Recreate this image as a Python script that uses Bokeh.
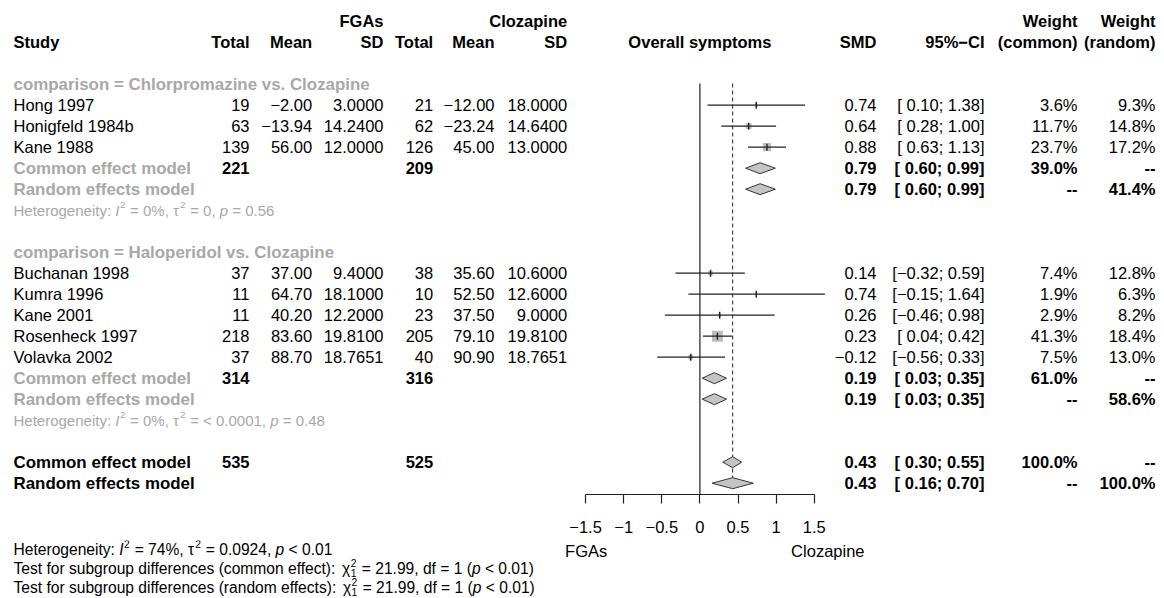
import math
from bokeh.plotting import figure
from bokeh.models import Range1d, LinearAxis, FixedTicker
from bokeh.layouts import column
from bokeh.core.properties import value
from bokeh.embed import file_html
from bokeh.resources import INLINE

# ------------------------------------------------------------------ data
group_labels = ["comparison = Chlorpromazine vs. Clozapine",
                "comparison = Haloperidol vs. Clozapine"]
studies = ["Hong 1997", "Honigfeld 1984b", "Kane 1988",
           "Buchanan 1998", "Kumra 1996", "Kane 2001", "Rosenheck 1997", "Volavka 2002"]
study_group = [0, 0, 0, 1, 1, 1, 1, 1]
fga_total = [19, 63, 139, 37, 11, 11, 218, 37]
fga_mean = [-2.00, -13.94, 56.00, 37.00, 64.70, 40.20, 83.60, 88.70]
fga_sd = [3.0, 14.24, 12.0, 9.4, 18.1, 12.2, 19.81, 18.7651]
clz_total = [21, 62, 126, 38, 10, 23, 205, 40]
clz_mean = [-12.00, -23.24, 45.00, 35.60, 52.50, 37.50, 79.10, 90.90]
clz_sd = [18.0, 14.64, 13.0, 10.6, 12.6, 9.0, 19.81, 18.7651]
smd = [0.74, 0.64, 0.88, 0.14, 0.74, 0.26, 0.23, -0.12]
ci_low = [0.10, 0.28, 0.63, -0.32, -0.15, -0.46, 0.04, -0.56]
ci_high = [1.38, 1.00, 1.13, 0.59, 1.64, 0.98, 0.42, 0.33]
w_common = [3.6, 11.7, 23.7, 7.4, 1.9, 2.9, 41.3, 7.5]
w_random = [9.3, 14.8, 17.2, 12.8, 6.3, 8.2, 18.4, 13.0]

sub_fga_total = [221, 314]
sub_clz_total = [209, 316]
sub_common_est = [0.79, 0.19]
sub_common_low = [0.60, 0.03]
sub_common_high = [0.99, 0.35]
sub_random_est = [0.79, 0.19]
sub_random_low = [0.60, 0.03]
sub_random_high = [0.99, 0.35]
sub_w_common = [39.0, 61.0]
sub_w_random = [41.4, 58.6]
sub_het_i2 = ["0%", "0%"]
sub_het_tau2 = ["0", "< 0.0001"]
sub_het_p = ["= 0.56", "= 0.48"]

overall_fga_total = 535
overall_clz_total = 525
overall_common = [0.43, 0.30, 0.55]
overall_random = [0.43, 0.16, 0.70]
overall_w = 100.0
overall_het = ["74%", "0.0924", "< 0.01"]
subgroup_test_chi2 = 21.99
subgroup_test_df = 1
subgroup_test_p = "< 0.01"

axis_ticks = [-1.5, -1, -0.5, 0, 0.5, 1, 1.5]
axis_tick_labels = ["\u22121.5", "\u22121", "\u22120.5", "0", "0.5", "1", "1.5"]
label_left = "FGAs"
label_right = "Clozapine"
ref_value = 0

# ------------------------------------------------------------------ layout helpers
W_PX, H_PX = 1164, 598
ZERO_PX, UNIT_PX = 699.4, 76.2
TOP_H, FRAME_H = 540, 494
FS, FS_LAB, FS_HET, FS_BOT = 16.5, 16.9, 15, 15.6
FONT = value("Liberation Sans")
GREY = "#a8a8a8"
NB = "\u00a0"


def X(px):
    return (px - ZERO_PX) / UNIT_PX


def ypx(k):
    return 41.7 + 21 * k


def fmt(v, d):
    return f"{v:.{d}f}".replace("-", "\u2212")


def fmt_ci(lo, hi):
    a = (" " if lo >= 0 else "\u2212") + f"{abs(lo):.2f}"
    b = fmt(hi, 2)
    return f"[{a}; {b}]"


def txt(fig, px, ys, texts, align="left", bold=False, italic=False, color="black", size=FS):
    style = "bold" if bold else ("italic" if italic else "normal")
    fig.text(x=[X(px)] * len(ys), y=ys, text=texts, text_align=align,
             text_baseline="middle", text_font=FONT, text_font_size=f"{size}px",
             text_font_style=style, text_color=color)


AW = {' ': 278, '(': 333, ')': 333, ',': 278, '.': 278, ':': 278, '%': 889, '=': 584,
      '<': 584, '-': 333, '\u03c7': 520, '\u03c4': 430, 'H': 722, 'I': 278, 'T': 611,
      'a': 556, 'b': 556, 'c': 500, 'd': 556, 'e': 556, 'f': 278, 'g': 556, 'h': 556,
      'i': 222, 'k': 500, 'l': 222, 'm': 833, 'n': 556, 'o': 556, 'p': 556, 'r': 333,
      's': 500, 't': 278, 'u': 556, 'v': 500, 'y': 500}


def tw(s, size):
    return sum(AW.get(c, 556) for c in s) * size / 1000.0


def rich(fig, x0, y, segs, size, color):
    x = x0
    ss = size * 0.66
    for s, kind in segs:
        shown = s.replace(" ", NB)
        if kind in ("n", "i"):
            txt(fig, x, [y], [shown], italic=(kind == "i"), color=color, size=size)
            x += tw(s, size)
        elif kind == "sup":
            txt(fig, x + 0.5, [y - size * 0.36], [shown], color=color, size=ss)
            x += tw(s, ss) + 1
        else:  # stacked super/sub
            a, b = s.split("|")
            txt(fig, x + 0.5, [y - size * 0.36], [a], color=color, size=ss)
            txt(fig, x + 0.5, [y + size * 0.27], [b], color=color, size=ss)
            x += max(tw(a, ss), tw(b, ss)) + 1.5


def het_segs(i2, tau2, p):
    p_op, p_val = p.split(" ", 1)
    return [("Heterogeneity: ", "n"), ("I", "i"), ("2", "sup"), (f" = {i2}, ", "n"),
            ("\u03c4", "n"), ("2", "sup"), (f" = {tau2}, ", "n"), ("p", "i"),
            (f" {p_op} {p_val}", "n")]


# column anchors (px)
C_STUDY, C_N1, C_M1, C_S1, C_N2, C_M2, C_S2 = 13, 249, 311.7, 383, 432.7, 494, 566.7
C_SMD, C_CI, C_WC, C_WR = 876, 984, 1077, 1155

# ------------------------------------------------------------------ rows
rows_glabel, rows_study, rows_common, rows_random, rows_het = [], [], [], [], []
r = 2
for g in range(len(group_labels)):
    rows_glabel.append(r); r += 1
    for i in range(len(studies)):
        if study_group[i] == g:
            rows_study.append(r); r += 1
    rows_common.append(r); r += 1
    rows_random.append(r); r += 1
    rows_het.append(r); r += 2
row_oc, row_or = r, r + 1

y_study = [ypx(k) for k in rows_study]

# ------------------------------------------------------------------ top figure
p = figure(width=W_PX, height=TOP_H, output_backend="svg", toolbar_location=None,
           x_range=Range1d(X(0), X(W_PX)), y_range=Range1d(FRAME_H, 0),
           x_axis_type=None, y_axis_type=None,
           min_border_left=0, min_border_right=0, min_border_top=0,
           min_border_bottom=TOP_H - FRAME_H)
p.outline_line_color = None
p.background_fill_color = "white"
p.border_fill_color = "white"

# headers
txt(p, C_S1, [ypx(-1)], ["FGAs"], align="right", bold=True)
txt(p, C_S2, [ypx(-1)], ["Clozapine"], align="right", bold=True)
txt(p, C_WC, [ypx(-1)], ["Weight"], align="right", bold=True)
txt(p, C_WR, [ypx(-1)], ["Weight"], align="right", bold=True)
h = ypx(0)
txt(p, C_STUDY, [h], ["Study"], bold=True)
for px, t in [(C_N1, "Total"), (C_M1, "Mean"), (C_S1, "SD"), (C_N2, "Total"),
              (C_M2, "Mean"), (C_S2, "SD"), (C_SMD, "SMD"), (C_CI, "95%\u2212CI"),
              (C_WC, "(common)"), (C_WR, "(random)")]:
    txt(p, px, [h], [t], align="right", bold=True)
txt(p, ZERO_PX, [h], ["Overall symptoms"], align="center", bold=True)

# group labels
txt(p, C_STUDY, [ypx(k) for k in rows_glabel], group_labels, bold=True, color=GREY, size=FS_LAB)

# study rows
txt(p, C_STUDY, y_study, studies)
txt(p, C_N1, y_study, [str(v) for v in fga_total], align="right")
txt(p, C_M1, y_study, [fmt(v, 2) for v in fga_mean], align="right")
txt(p, C_S1, y_study, [fmt(v, 4) for v in fga_sd], align="right")
txt(p, C_N2, y_study, [str(v) for v in clz_total], align="right")
txt(p, C_M2, y_study, [fmt(v, 2) for v in clz_mean], align="right")
txt(p, C_S2, y_study, [fmt(v, 4) for v in clz_sd], align="right")
txt(p, C_SMD, y_study, [fmt(v, 2) for v in smd], align="right")
txt(p, C_CI, y_study, [fmt_ci(a, b) for a, b in zip(ci_low, ci_high)], align="right")
txt(p, C_WC, y_study, [fmt(v, 1) + "%" for v in w_common], align="right")
txt(p, C_WR, y_study, [fmt(v, 1) + "%" for v in w_random], align="right")

# subgroup summaries
y_c = [ypx(k) for k in rows_common]
y_r = [ypx(k) for k in rows_random]
txt(p, C_STUDY, y_c, ["Common effect model"] * 2, bold=True, color=GREY, size=FS_LAB)
txt(p, C_STUDY, y_r, ["Random effects model"] * 2, bold=True, color=GREY, size=FS_LAB)
txt(p, C_N1, y_c, [str(v) for v in sub_fga_total], align="right", bold=True)
txt(p, C_N2, y_c, [str(v) for v in sub_clz_total], align="right", bold=True)
txt(p, C_SMD, y_c, [fmt(v, 2) for v in sub_common_est], align="right", bold=True)
txt(p, C_CI, y_c, [fmt_ci(a, b) for a, b in zip(sub_common_low, sub_common_high)], align="right", bold=True)
txt(p, C_WC, y_c, [fmt(v, 1) + "%" for v in sub_w_common], align="right", bold=True)
txt(p, C_WR, y_c, ["--"] * 2, align="right", bold=True)
txt(p, C_SMD, y_r, [fmt(v, 2) for v in sub_random_est], align="right", bold=True)
txt(p, C_CI, y_r, [fmt_ci(a, b) for a, b in zip(sub_random_low, sub_random_high)], align="right", bold=True)
txt(p, C_WC, y_r, ["--"] * 2, align="right", bold=True)
txt(p, C_WR, y_r, [fmt(v, 1) + "%" for v in sub_w_random], align="right", bold=True)
for g, k in enumerate(rows_het):
    rich(p, C_STUDY, ypx(k), het_segs(sub_het_i2[g], sub_het_tau2[g], sub_het_p[g]), FS_HET, GREY)

# overall
yo_c, yo_r = ypx(row_oc), ypx(row_or)
txt(p, C_STUDY, [yo_c], ["Common effect model"], bold=True, size=FS_LAB)
txt(p, C_STUDY, [yo_r], ["Random effects model"], bold=True, size=FS_LAB)
txt(p, C_N1, [yo_c], [str(overall_fga_total)], align="right", bold=True)
txt(p, C_N2, [yo_c], [str(overall_clz_total)], align="right", bold=True)
txt(p, C_SMD, [yo_c, yo_r], [fmt(overall_common[0], 2), fmt(overall_random[0], 2)], align="right", bold=True)
txt(p, C_CI, [yo_c, yo_r], [fmt_ci(overall_common[1], overall_common[2]),
                            fmt_ci(overall_random[1], overall_random[2])], align="right", bold=True)
txt(p, C_WC, [yo_c, yo_r], [fmt(overall_w, 1) + "%", "--"], align="right", bold=True)
txt(p, C_WR, [yo_c, yo_r], ["--", fmt(overall_w, 1) + "%"], align="right", bold=True)

# reference lines
LINE_TOP = 83
p.segment(x0=[ref_value], y0=[LINE_TOP], x1=[ref_value], y1=[FRAME_H],
          line_color="#222222", line_width=1.2)
p.segment(x0=[overall_common[0]], y0=[LINE_TOP], x1=[overall_common[0]], y1=[yo_r - 5.5],
          line_color="#222222", line_width=1, line_dash="4 3")

# study CIs, squares, estimate marks
p.scatter(x=smd, y=y_study, marker="square", size=[1.7 * math.sqrt(w) for w in w_common],
          fill_color="#bdbdbd", line_color=None)
p.segment(x0=ci_low, y0=y_study, x1=ci_high, y1=y_study, line_color="#222222", line_width=1.3)
p.segment(x0=smd, y0=[y - 3.5 for y in y_study], x1=smd, y1=[y + 3.5 for y in y_study],
          line_color="#222222", line_width=1.4)

# diamonds
DH = 5.5
d_est = sub_common_est + sub_random_est + [overall_common[0], overall_random[0]]
d_lo = sub_common_low + sub_random_low + [overall_common[1], overall_random[1]]
d_hi = sub_common_high + sub_random_high + [overall_common[2], overall_random[2]]
d_y = y_c + y_r + [yo_c, yo_r]
p.patches(xs=[[lo, e, hi, e] for lo, e, hi in zip(d_lo, d_est, d_hi)],
          ys=[[y, y - DH, y, y + DH] for y in d_y],
          fill_color="#c4c4c4", line_color="#333333", line_width=1)

# axis
ax = LinearAxis(ticker=FixedTicker(ticks=axis_ticks), bounds=(axis_ticks[0], axis_ticks[-1]))
ax.major_label_overrides = {t: l for t, l in zip(axis_ticks, axis_tick_labels)}
ax.axis_line_color = "#222222"
ax.axis_line_width = 1.2
ax.major_tick_line_color = "#222222"
ax.major_tick_line_width = 1.2
ax.major_tick_out = 9
ax.major_tick_in = 0
ax.minor_tick_out = 0
ax.minor_tick_in = 0
ax.major_label_standoff = 17
ax.major_label_text_font = "Liberation Sans"
ax.major_label_text_font_size = f"{FS}px"
ax.major_label_text_color = "black"
p.add_layout(ax, "below")

# ------------------------------------------------------------------ bottom figure
b = figure(width=W_PX, height=H_PX - TOP_H, output_backend="svg", toolbar_location=None,
           x_range=Range1d(X(0), X(W_PX)), y_range=Range1d(H_PX, TOP_H),
           x_axis_type=None, y_axis_type=None,
           min_border_left=0, min_border_right=0, min_border_top=0, min_border_bottom=0)
b.outline_line_color = None
b.background_fill_color = "white"
b.border_fill_color = "white"

txt(b, 564.6, [550], [label_left], size=FS)
txt(b, 864, [550], [label_right], align="right", size=FS)
rich(b, C_STUDY, 549, het_segs(*overall_het), FS_BOT, "black")
for yy, kind in [(568, "common effect"), (587, "random effects")]:
    p_op, p_val = subgroup_test_p.split(" ", 1)
    rich(b, C_STUDY, yy,
         [(f"Test for subgroup differences ({kind}): ", "n"), ("\u03c7", "n"),
          (f"2|{subgroup_test_df}", "supsub"),
          (f" = {subgroup_test_chi2:.2f}, df = {subgroup_test_df} (", "n"), ("p", "i"),
          (f" {p_op} {p_val})", "n")], FS_BOT, "black")

layout = column(p, b, spacing=0)
open("out.html", "w").write(file_html(layout, INLINE))
